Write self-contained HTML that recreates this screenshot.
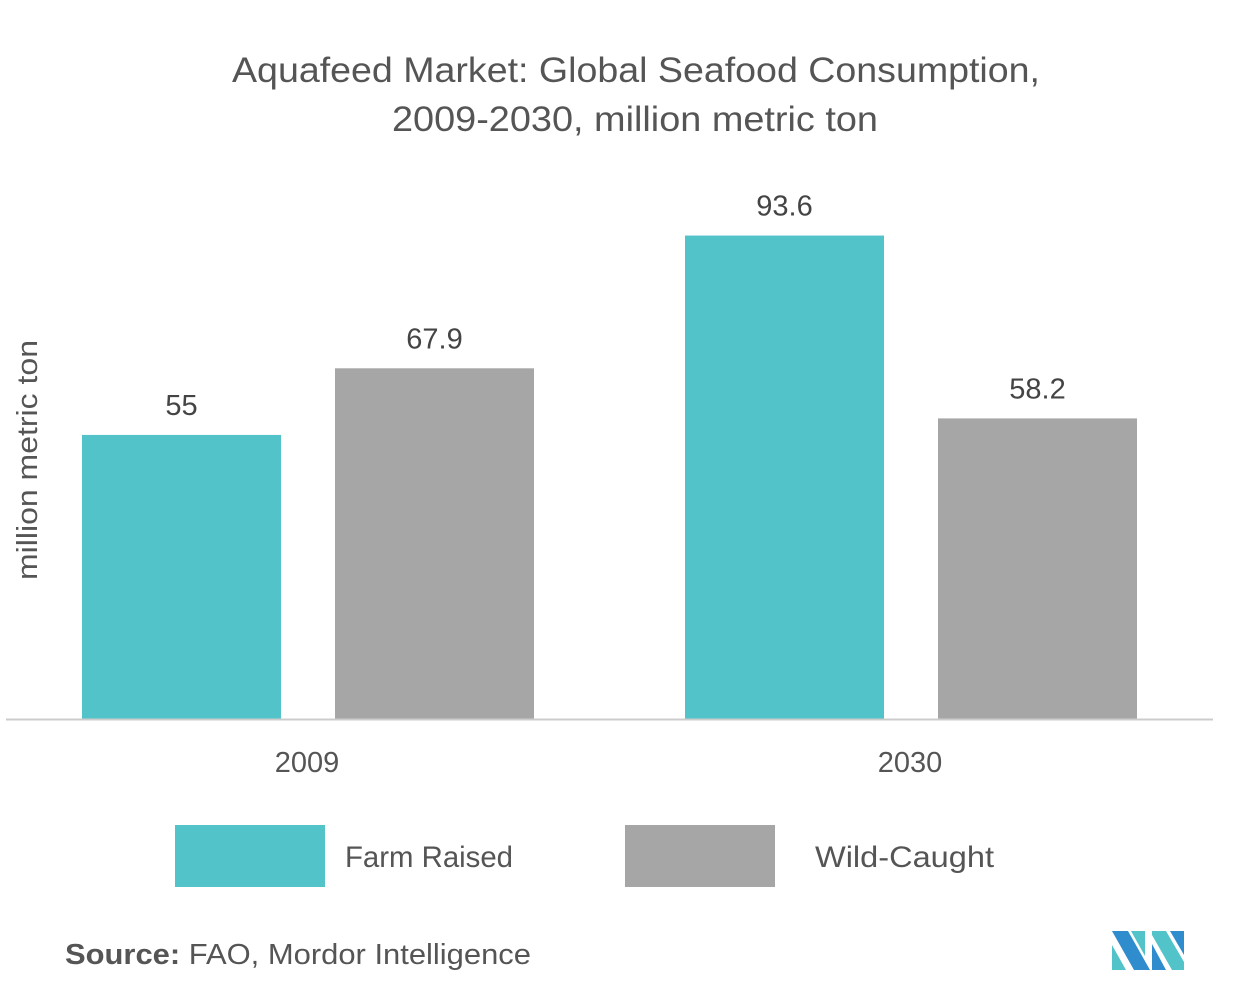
<!DOCTYPE html>
<html><head><meta charset="utf-8"><style>
body{margin:0;background:#fff;}
svg text{font-family:"Liberation Sans",sans-serif;}
</style></head><body>
<svg width="1253" height="993" viewBox="0 0 1253 993" xmlns="http://www.w3.org/2000/svg">
<text x="232" y="82" textLength="808" lengthAdjust="spacingAndGlyphs" font-size="35" fill="#555">Aquafeed Market: Global Seafood Consumption,</text>
<text x="392" y="131" textLength="486" lengthAdjust="spacingAndGlyphs" font-size="35" fill="#555">2009-2030,  million metric ton</text>
<text transform="translate(37,580) rotate(-90)" textLength="240" lengthAdjust="spacingAndGlyphs" font-size="29" fill="#555">million metric ton</text>
<g id="bars"></g>
<line x1="6" y1="719.5" x2="1213" y2="719.5" stroke="#ccc" stroke-width="2"/>
<rect x="175" y="825" width="150" height="62" fill="#52c3c9"/>
<text x="345" y="867" textLength="168" lengthAdjust="spacingAndGlyphs" font-size="30" fill="#555">Farm Raised</text>
<rect x="625" y="825" width="150" height="62" fill="#a6a6a6"/>
<text x="815" y="867" textLength="179" lengthAdjust="spacingAndGlyphs" font-size="30" fill="#555">Wild-Caught</text>
<text x="65" y="964" textLength="466" lengthAdjust="spacingAndGlyphs" font-size="29" fill="#555"><tspan font-weight="bold">Source:</tspan> FAO, Mordor Intelligence</text>
<g>
<polygon points="1112,931 1128,931 1150,970 1134,970" fill="#2f8ccd"/>
<polygon points="1112,945 1126,970 1112,970" fill="#52c3c9"/>
<polygon points="1131,931 1145,931 1145,956" fill="#52c3c9"/>
<polygon points="1152,931 1166,931 1184,962 1184,970 1172,970 1152,935" fill="#52c3c9"/>
<polygon points="1152,944 1166,970 1152,970" fill="#2f8ccd"/>
<polygon points="1170,931 1184,931 1184,955" fill="#2f8ccd"/>
</g>
</svg>
<script>
const categories=["2009","2030"];
const farmRaised=[55,93.6];
const wildCaught=[67.9,58.2];
const base=719, scale=5.165;
const y=v=>base-v*scale;
const groupStart=[82,685];
const g=document.getElementById('bars');
const NS="http://www.w3.org/2000/svg";
function bar(x,v,color,name){
  const r=document.createElementNS(NS,'rect');
  r.setAttribute('x',x);r.setAttribute('y',y(v));r.setAttribute('width',199);r.setAttribute('height',v*scale);r.setAttribute('fill',color);
  
  
  g.appendChild(r);
  const t=document.createElementNS(NS,'text');
  t.setAttribute('x',x+99.5);t.setAttribute('y',y(v)-20);t.setAttribute('text-anchor','middle');t.setAttribute('font-size','29');t.setAttribute('fill','#444');
  t.textContent=String(v);
  
  
  g.appendChild(t);
}
categories.forEach((c,i)=>{
  bar(groupStart[i],farmRaised[i],'#52c3c9','bar-farm-'+c);
  bar(groupStart[i]+253,wildCaught[i],'#a6a6a6','bar-wild-'+c);
  const t=document.createElementNS(NS,'text');
  t.setAttribute('x',groupStart[i]+225);t.setAttribute('y',772);t.setAttribute('text-anchor','middle');t.setAttribute('font-size','29');t.setAttribute('fill','#555');
  t.textContent=c;
  
  
  g.appendChild(t);
});
</script>
</body></html>
